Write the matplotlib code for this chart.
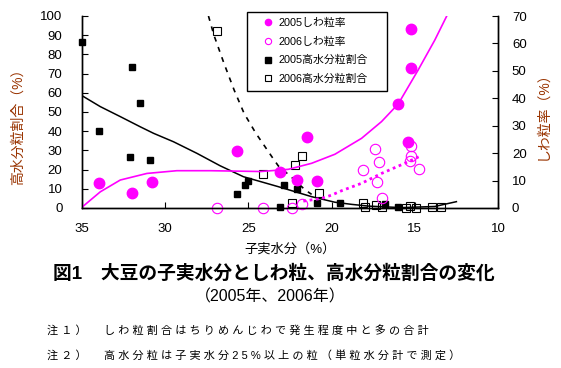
import matplotlib
matplotlib.use('Agg')
import matplotlib.pyplot as plt
from matplotlib.lines import Line2D
from matplotlib.patches import Rectangle

plt.rcParams['font.family'] = ['Liberation Sans', 'Noto Sans CJK JP']

#Dati
#2005 高水分粒割合 (asse sinistro)
x05h = [35.0, 32.0, 31.5, 34.0, 32.1, 30.9, 25.7, 25.2, 25.0, 22.85, 22.1, 23.1, 20.9, 19.5, 16.8, 16.0]
y05h = [86.6, 73.6, 54.8, 40.3, 26.7, 25.2, 7.1, 12.2, 13.9, 12.2, 9.7, 0.7, 2.4, 2.8, 2.1, 0.7]
#2006 高水分粒割合
x06h = [26.9, 21.8, 22.2, 24.15, 20.75, 22.4, 18.1, 18.0, 17.35, 17.0, 15.3, 15.5, 14.9, 13.95, 13.4]
y06h = [92.2, 27.2, 22.6, 17.7, 8.0, 2.8, 2.6, 0.3, 1.6, 0.3, 0.8, 0.2, 0.2, 0.3, 0.6]
#2005 しわ粒率 (asse destro)
x05w = [34.0, 32.0, 30.8, 25.7, 21.5, 23.1, 22.1, 20.9, 15.2, 15.25, 16.0, 15.4]
y05w = [9.1, 5.6, 9.4, 20.8, 26.0, 13.0, 10.2, 9.7, 65.1, 50.9, 37.9, 24.1]
#2006 しわ粒率
x06w = [26.9, 24.15, 22.4, 21.8, 18.1, 17.4, 17.15, 17.3, 17.0, 15.2, 15.25, 15.3, 14.75]
y06w = [0.0, 0.0, 0.0, 1.6, 13.7, 21.4, 16.6, 9.4, 3.5, 22.7, 19.0, 17.3, 14.2]

#Linee di tendenza
t05h_x = [35, 33.9, 32.7, 31.5, 30.7, 29.5, 28.1, 26.7, 25.3, 23.2, 21.2, 19.8, 18.8, 17.8, 15.8, 13.8, 12.5]
t05h_y = [58.5, 52.8, 47.6, 42.3, 38.9, 34.5, 28.5, 22.0, 16.3, 11.1, 5.9, 3.0, 1.9, 1.0, 0.2, 0.8, 3.3]
t06h_x = [27.4, 27.07, 26.47, 25.86, 25.26, 24.55, 23.55, 23.2, 22.44, 21.6, 21.2]
t06h_y = [100, 90, 75.4, 61.5, 49.3, 38.9, 26.2, 21.9, 16.3, 9.5, 7.1]
t05w_x = [35, 33.9, 32.7, 31.1, 29.3, 27.3, 24.25, 22.6, 21.2, 19.8, 18.2, 17.0, 16.0, 14.8, 13.8, 13.08]
t05w_y = [0.3, 5.9, 10.2, 12.6, 13.6, 13.6, 13.3, 14.1, 16.3, 19.6, 25.4, 31.5, 37.9, 50.3, 61.2, 70]
t06w_x = [21.7, 20.6, 20.0, 19.4, 18.2, 17.0, 15.6, 14.75]
t06w_y = [2.5, 3.5, 4.7, 6.3, 9.0, 12.6, 16.3, 18.7]

xticks = [35, 30, 25, 20, 15, 10]
labels = ['2005しわ粒率', '2006しわ粒率', '2005高水分粒割合', '2006高水分粒割合']
note1 = '注１）　しわ粒割合はちりめんじわで発生程度中と多の合計'
note2 = '注２）　高水分粒は子実水分25%以上の粒（単粒水分計で測定）'

W, H = 561, 368
mag = '#FF00FF'
lab_col = '#993300'

fig = plt.figure(figsize=(W/100, H/100), dpi=100)
ax = fig.add_axes([82/W, 1-208/H, 416/W, 192/H])
ax2 = ax.twinx()

ax.plot(t05h_x, t05h_y, color='black', lw=1.1)
ax.plot(t06h_x, t06h_y, color='black', lw=1.2, ls=(0, (3, 3.5)))
ax.plot(x05h, y05h, ls='none', marker='s', color='black', ms=5, clip_on=False)
ax.plot(x06h, y06h, ls='none', marker='s', mfc='none', mec='black', ms=5.5, mew=0.8, clip_on=False)

ax2.plot(t05w_x, t05w_y, color=mag, lw=1.2)
ax2.plot(t06w_x, t06w_y, color=mag, lw=2, ls=(0, (1, 1.3)))
ax2.plot(x05w, y05w, ls='none', marker='o', color=mag, ms=7.5, clip_on=False)
ax2.plot(x06w, y06w, ls='none', marker='o', mfc='none', mec=mag, ms=7.5, mew=0.8, clip_on=False)

ax.set_xlim(35, 10)
ax.set_ylim(0, 100)
ax2.set_ylim(0, 70)
ax.set_xticks(xticks)
ax.set_yticks(range(0, 101, 10))
ax2.set_yticks(range(0, 71, 10))
for a in (ax, ax2):
    a.spines['top'].set_visible(False)
    for s in a.spines.values():
        s.set_linewidth(1)
ax.tick_params(axis='x', direction='in', length=4, pad=11, labelsize=9.5)
ax.tick_params(axis='y', direction='in', length=4, pad=14, labelsize=9.5)
ax2.tick_params(axis='y', direction='in', length=4, pad=10, labelsize=9.5)

ax.set_xlabel('子実水分（%）', fontsize=9.5)
ax.xaxis.set_label_coords(0.5, -0.185)
ax.set_ylabel('高水分粒割合（%）', fontsize=10, color=lab_col)
ax.yaxis.set_label_coords(-0.137, 0.44)
ax2.set_ylabel('しわ粒率（%）', fontsize=10, color=lab_col)
ax2.yaxis.set_label_coords(1.09, 0.5)

#Legenda
hs = [Line2D([], [], ls='none', marker='o', color=mag, ms=4.5),
      Line2D([], [], ls='none', marker='o', mfc='none', mec=mag, ms=4.5, mew=0.8),
      Line2D([], [], ls='none', marker='s', color='black', ms=4.5),
      Line2D([], [], ls='none', marker='s', mfc='none', mec='black', ms=4.5, mew=0.8)]
fig.legend(hs, labels, loc='upper left', bbox_to_anchor=(262.8/W, 1-18/H), frameon=False,
           fontsize=7.8, handlelength=1.0, handletextpad=0.45, labelspacing=0.78,
           borderpad=0, borderaxespad=0)
fig.add_artist(Rectangle((247/W, 1-91/H), 140/W, 79/H, transform=fig.transFigure,
                         fill=False, ec='black', lw=1))

#Titolo e note
fig.text(53/W, 1-274/H, '図1　大豆の子実水分としわ粒、高水分粒割合の変化',
         fontsize=13.5, fontweight='bold', ha='left', va='center')
fig.text(270/W, 1-297/H, '（2005年、2006年）', fontsize=11.5, ha='center', va='center')
fig.text(47/W, 1-330/H, ' '.join(note1), fontsize=8.0, ha='left', va='center')
fig.text(47/W, 1-355/H, ' '.join(note2), fontsize=8.0, ha='left', va='center')

fig.savefig('out.png', dpi=100)
